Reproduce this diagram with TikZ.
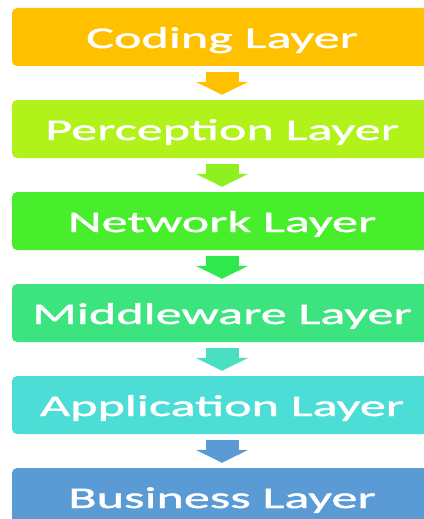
\documentclass[tikz,border=0pt]{standalone}
\usepackage{fontspec}
\setmainfont[FakeStretch=1.74,FakeBold=1.5]{Carlito}
\usetikzlibrary{positioning}
\usetikzlibrary{arrows.meta}

\definecolor{codingfill}{HTML}{FFC000}
\definecolor{perceptionfill}{HTML}{B0F21A}
\definecolor{networkfill}{HTML}{48EE2C}
\definecolor{middlewarefill}{HTML}{3CE480}
\definecolor{applicationfill}{HTML}{4CDED6}
\definecolor{businessfill}{HTML}{5B9BD5}
\definecolor{flowtwo}{HTML}{8EF01E}
\definecolor{flowthree}{HTML}{2FE84E}
\definecolor{flowfour}{HTML}{48E0C0}

\tikzset{
  layer/.style={fill=#1, rounded corners=5pt, minimum width=420pt, minimum height=58pt,
    text=white, font=\fontsize{30}{30}\selectfont, inner sep=0pt, text height=22pt, text depth=0pt},
  flow/.style={draw=#1, line width=33pt, -{Triangle[width=52pt,length=13pt]}, shorten <=6pt, shorten >=5pt}
}

\begin{document}
\begin{tikzpicture}
  \useasboundingbox (0,0) rectangle (423pt,-519pt);
  \node[layer=codingfill] (coding) at (222pt,-37pt) {Coding Layer};
  \node[layer=perceptionfill, below=33.6pt of coding] (perception) {Perception Layer};
  \node[layer=networkfill, below=33.6pt of perception] (network) {Network Layer};
  \node[layer=middlewarefill, below=33.6pt of network] (middleware) {Middleware Layer};
  \node[layer=applicationfill, below=33.6pt of middleware] (application) {Application Layer};
  \node[layer=businessfill, below=33.6pt of application] (business) {Business Layer};

  \draw[flow=codingfill] (coding) -- (perception);
  \draw[flow=flowtwo] (perception) -- (network);
  \draw[flow=flowthree] (network) -- (middleware);
  \draw[flow=flowfour] (middleware) -- (application);
  \draw[flow=businessfill] (application) -- (business);
\end{tikzpicture}
\end{document}
